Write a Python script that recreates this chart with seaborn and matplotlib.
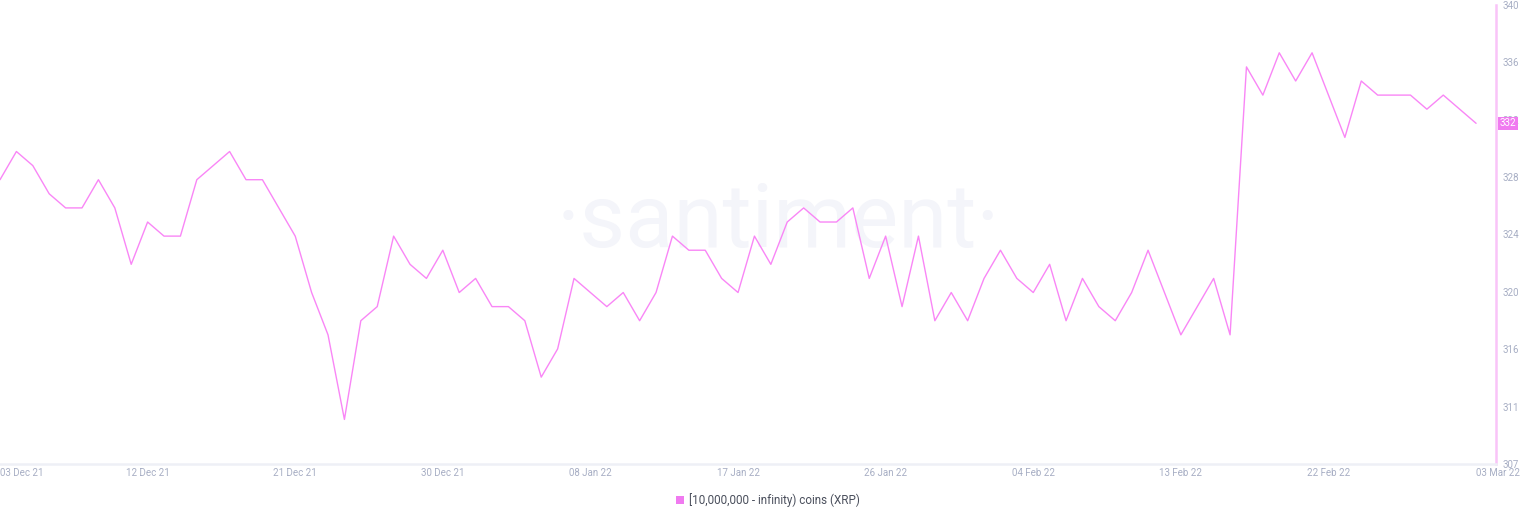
import numpy as np
import pandas as pd
import matplotlib
matplotlib.use("Agg")
import matplotlib.pyplot as plt
import matplotlib.transforms as mtransforms
from matplotlib.patches import Patch
import seaborn as sns

# ---------------- data ----------------
start_date = "2021-12-03"
values = [328, 330, 329, 327, 326, 326, 328, 326, 322, 325, 324, 324, 328, 329, 330, 328, 328, 326, 324,
          320, 317, 311, 318, 319, 324, 322, 321, 323, 320, 321, 319, 319, 318, 314, 316,
          321, 320, 319, 320, 318, 320, 324, 323, 323, 321, 320, 324, 322, 325, 326, 325, 325, 326,
          321, 324, 319, 324, 318, 320, 318, 321, 323, 321, 320, 322, 318, 321, 319, 318, 320, 323, 320, 317,
          319, 321, 317, 336, 334, 337, 335, 337, 334, 331, 335, 334, 334, 334, 333, 334, 333, 332]
tick_dates = ["2021-12-03", "2021-12-12", "2021-12-21", "2021-12-30", "2022-01-08", "2022-01-17",
              "2022-01-26", "2022-02-04", "2022-02-13", "2022-02-22", "2022-03-03"]
tick_labels = ["03 Dec 21", "12 Dec 21", "21 Dec 21", "30 Dec 21", "08 Jan 22", "17 Jan 22",
               "26 Jan 22", "04 Feb 22", "13 Feb 22", "22 Feb 22", "03 Mar 22"]
ytick_labels = ["307", "311", "316", "320", "324", "328", "332", "336", "340"]
series_name = "[10,000,000 - infinity) coins (XRP)"
last_value_label = "332"
watermark = "\u00b7santiment\u00b7"

# ---------------- style ----------------
LINE = "#f986f6"
BADGE = "#f07af0"
RIGHT_AXIS = "#f9c4f8"
TICK_COL = "#a7aec4"

dates = pd.date_range(start_date, periods=len(values), freq="D")
df = pd.DataFrame({"date": dates, "coins": values})

sns.set_theme(style="white")
plt.rcParams['font.family'] = ['Roboto', 'DejaVu Sans']

fig = plt.figure(figsize=(15.36, 5.2), dpi=100)
ax = fig.add_axes([0.0, 0.1077, 0.9738, 0.8827])
ax.set_facecolor("none")

sns.lineplot(data=df, x="date", y="coins", ax=ax, color=LINE, linewidth=1.0, legend=False, zorder=3)

ylo, yhi = 307.84, 340.39
ax.set_ylim(ylo, yhi)
ax.set_xlim(dates[0], dates[0] + pd.Timedelta(days=91.2))

# watermark
ax.text(778 / 1536, 1 - 222 / 520, watermark, transform=fig.transFigure, ha="center", va="center",
        fontsize=64, color="#f4f5fa", fontweight="normal", zorder=0)

# spines
for s in ["top", "left"]:
    ax.spines[s].set_visible(False)
ax.spines["right"].set_color(RIGHT_AXIS)
ax.spines["right"].set_linewidth(1.8)
ax.spines["bottom"].set_color("#eef0f6")
ax.spines["bottom"].set_linewidth(1.8)

# y ticks on the right
ax.yaxis.tick_right()
ax.set_yticks(np.linspace(ylo, yhi, len(ytick_labels)))
ax.set_yticklabels(ytick_labels)
ax.tick_params(axis="y", length=0, pad=5, labelsize=7, labelcolor=TICK_COL)

# x ticks
ax.set_xticks(pd.to_datetime(tick_dates))
ax.set_xticklabels(tick_labels)
ax.tick_params(axis="x", length=0, pad=3, labelsize=7, labelcolor=TICK_COL)
xt = ax.get_xticklabels()
xt[0].set_ha("left")
xt[-1].set_ha("left")
ax.set_xlabel("")
ax.set_ylabel("")
ax.grid(False)

# last-value badge
trans = mtransforms.blended_transform_factory(ax.transAxes, ax.transData)
ax.text(1.0025, values[-1], last_value_label, transform=trans, ha="left", va="center",
        fontsize=7, color="white", zorder=5, clip_on=False,
        bbox=dict(boxstyle="square,pad=0.15", fc=BADGE, ec="none"))

# legend
handle = Patch(facecolor=BADGE, edgecolor="none", label=series_name)
leg = fig.legend(handles=[handle], loc="center", bbox_to_anchor=(0.5, 1 - 500 / 520), frameon=False,
                 fontsize=8.4, handlelength=0.65, handleheight=0.65, handletextpad=0.45)
for t in leg.get_texts():
    t.set_color("#4a4f5c")

fig.savefig("out.png", dpi=100, facecolor="white")
